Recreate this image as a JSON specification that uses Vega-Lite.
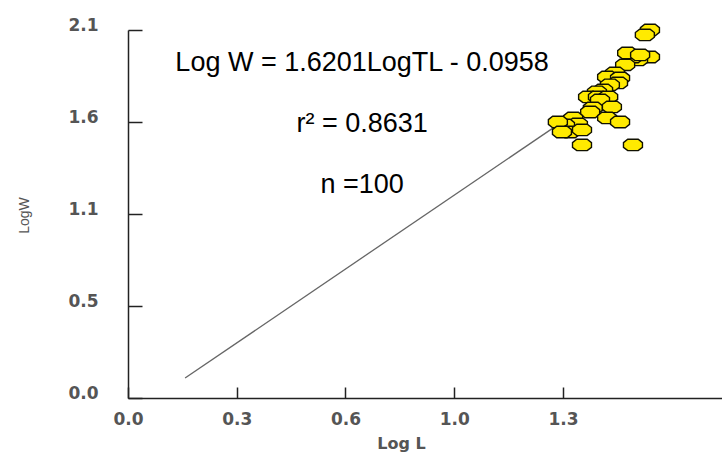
{
  "$schema": "https://vega.github.io/schema/vega-lite/v6.json",
  "width": 594,
  "height": 368,
  "autosize": {"type": "none"},
  "padding": {"left": 128, "top": 30, "right": 0, "bottom": 60},
  "background": "white",
  "config": {
    "view": {"stroke": null},
    "axis": {
      "grid": false,
      "domainColor": "#222222",
      "domainWidth": 1.5,
      "tickColor": "#222222",
      "tickWidth": 1.5,
      "labelFlush": false,
      "labelFont": "DejaVu Sans",
      "labelFontWeight": "bold",
      "labelFontSize": 17,
      "labelColor": "#555555",
      "titleColor": "#555555"
    }
  },
  "datasets": {
    "fit": [
      {"logL": 0.168, "logW": 0.114},
      {"logL": 1.286, "logW": 1.587}
    ],
    "fish": [
      {"logL": 1.536, "logW": 2.100},
      {"logL": 1.521, "logW": 2.072},
      {"logL": 1.536, "logW": 1.946},
      {"logL": 1.501, "logW": 1.929},
      {"logL": 1.486, "logW": 1.946},
      {"logL": 1.469, "logW": 1.969},
      {"logL": 1.507, "logW": 1.958},
      {"logL": 1.463, "logW": 1.901},
      {"logL": 1.433, "logW": 1.855},
      {"logL": 1.410, "logW": 1.832},
      {"logL": 1.448, "logW": 1.826},
      {"logL": 1.442, "logW": 1.798},
      {"logL": 1.418, "logW": 1.787},
      {"logL": 1.398, "logW": 1.758},
      {"logL": 1.380, "logW": 1.747},
      {"logL": 1.354, "logW": 1.718},
      {"logL": 1.383, "logW": 1.718},
      {"logL": 1.413, "logW": 1.718},
      {"logL": 1.389, "logW": 1.701},
      {"logL": 1.368, "logW": 1.655},
      {"logL": 1.424, "logW": 1.661},
      {"logL": 1.360, "logW": 1.632},
      {"logL": 1.410, "logW": 1.598},
      {"logL": 1.448, "logW": 1.575},
      {"logL": 1.310, "logW": 1.598},
      {"logL": 1.324, "logW": 1.564},
      {"logL": 1.286, "logW": 1.558},
      {"logL": 1.265, "logW": 1.575},
      {"logL": 1.301, "logW": 1.518},
      {"logL": 1.277, "logW": 1.518},
      {"logL": 1.336, "logW": 1.530},
      {"logL": 1.336, "logW": 1.444},
      {"logL": 1.486, "logW": 1.444}
    ],
    "notes": [
      {"logL": 0.689, "logW": 1.868, "label": "Log W = 1.6201LogTL - 0.0958"},
      {"logL": 0.689, "logW": 1.520, "label": "r² = 0.8631"},
      {"logL": 0.689, "logW": 1.170, "label": "n =100"}
    ]
  },
  "encoding": {
    "x": {
      "field": "logL",
      "type": "quantitative",
      "scale": {"domain": [0, 1.748], "nice": false, "zero": false},
      "axis": {
        "title": "Log L",
        "values": [0, 0.32, 0.64, 0.96, 1.28],
        "format": ".1f",
        "tickSize": -11,
        "labelPadding": 24,
        "titleFont": "DejaVu Sans",
        "titleFontWeight": "bold",
        "titleFontSize": 16,
        "titleX": 273,
        "titleY": 45,
        "titleBaseline": "middle",
        "titleAlign": "center"
      }
    },
    "y": {
      "field": "logW",
      "type": "quantitative",
      "scale": {"domain": [0, 2.1], "nice": false, "zero": false},
      "axis": {
        "title": "LogW",
        "values": [0, 0.525, 1.05, 1.575, 2.1],
        "format": ".1f",
        "tickSize": -14,
        "labelPadding": 44,
        "labelOffset": -5,
        "titleFont": "Liberation Sans",
        "titleFontWeight": "normal",
        "titleFontSize": 14,
        "titleX": -104,
        "titleY": 185,
        "titleAngle": -90,
        "titleBaseline": "middle",
        "titleAlign": "center"
      }
    }
  },
  "layer": [
    {
      "data": {"name": "fit"},
      "mark": {"type": "line", "color": "#666666", "strokeWidth": 1.3}
    },
    {
      "data": {"name": "fish"},
      "mark": {
        "type": "point",
        "shape": "M -1,-0.25 L -0.55,-0.6 L 0.55,-0.6 L 1,-0.25 L 1,0.25 L 0.55,0.6 L -0.55,0.6 L -1,0.25 Z",
        "size": 360,
        "filled": true,
        "fill": "#FFEA00",
        "stroke": "#111100",
        "strokeWidth": 1.4,
        "opacity": 1
      }
    },
    {
      "data": {"name": "notes"},
      "mark": {
        "type": "text",
        "font": "Liberation Sans",
        "fontSize": 27,
        "color": "#000000",
        "align": "center",
        "baseline": "alphabetic"
      },
      "encoding": {"text": {"field": "label"}}
    }
  ]
}
